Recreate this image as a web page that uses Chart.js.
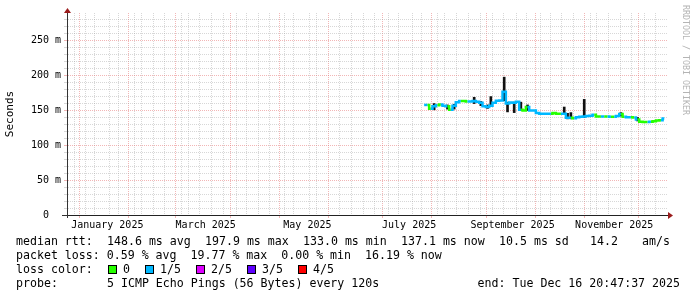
<!DOCTYPE html>
<html><head><meta charset="utf-8">
<script src="https://cdn.jsdelivr.net/npm/chart.js@4.4.1/dist/chart.umd.min.js"></script>
<style>
html,body{margin:0;padding:0;background:#fff;}
#wrap{position:relative;width:697px;height:297px;overflow:hidden;background:#fff;}
canvas{position:absolute;left:0;top:0;}
.t{position:absolute;font-family:'DejaVu Sans Mono',monospace;font-size:11.6px;line-height:14px;white-space:pre;color:#000;}
.box{position:absolute;width:7px;height:7px;border:1px solid #000;}
#credit{position:absolute;left:681px;top:5px;font-family:'DejaVu Sans Mono',monospace;font-size:8.3px;line-height:10px;color:#b4b4b4;writing-mode:vertical-rl;white-space:pre;}
</style></head><body>
<div id="wrap"><canvas id="c" width="697" height="297"></canvas>
<div id="legend"></div>
<div id="credit">RRDTOOL / TOBI OETIKER</div></div>
<script>
// ---- data (2025, median round-trip time in ms, loss in fifths) ----
const dates = ['07-25','07-27','07-29','07-31','08-02','08-04','08-06','08-08','08-10','08-12',
  '08-14','08-16','08-18','08-20','08-22','08-24','08-26','08-28','08-30','09-01',
  '09-03','09-05','09-07','09-09','09-11','09-13','09-15','09-17','09-19','09-21',
  '09-23','09-25','09-27','09-29','10-01','10-03','10-05','10-07','10-09','10-11',
  '10-13','10-15','10-17','10-19','10-21','10-23','10-25','10-27','10-29','10-31',
  '11-02','11-04','11-06','11-08','11-10','11-12','11-14','11-16','11-18','11-20',
  '11-22','11-24','11-26','11-28','11-30','12-02','12-04','12-06','12-08','12-10',
  '12-12','12-14','12-16'];
const medianMs = [158,158,152.5,156,157.5,158.5,157,156,151,157,
  162,163.5,163.5,163,163,163.5,162.5,161,156,155,
  157,161,164,164.5,177,160,161.5,161,162.5,151,
  150,155,150,150,146.5,145.5,145.2,145.2,145.5,146.5,
  145.2,145.2,145.5,139.5,139.5,139,140.5,141,141.4,142,
  142.5,144,141.5,141.4,141.4,141.4,141,141,142,145,
  141,140.5,140.5,140,137,134,133.5,133.5,134,134.5,
  135.5,136,138.5];
const lossFifths = [1,1,0,1,1,0,1,1,0,1,
  1,1,0,0,1,1,1,1,1,1,
  1,1,1,1,1,1,1,1,1,1,
  0,0,1,1,1,1,1,1,1,0,
  0,0,1,1,1,0,1,1,1,1,
  1,1,0,0,1,0,1,0,1,1,
  0,1,1,0,1,0,0,0,1,0,
  0,0,1];
const smokeDates  = ['07-31','08-08','08-12','08-24','08-28','09-01','09-03','09-11','09-13','09-17','09-21','09-25','10-17','10-19','10-21','10-29','11-20','11-30'];
const smokeLowMs  = [151,152,152,160,157,153,156,164,148,147,150,150,145,138,138,140,142,135];
const smokeHighMs = [160,158,159,169,163,158,170,197.9,162,162,162,158,155,146,147,166,147,140];

const xLabelTexts = ['January 2025','March 2025','May 2025','July 2025','September 2025','November 2025'];
const xLabelDates = ['2025-01-16','2025-03-16','2025-05-16','2025-07-16','2025-09-16','2025-11-16'];
const yTickValues = [0,50,100,150,200,250];
const yTickLabels = ['0  ','50 m','100 m','150 m','200 m','250 m'];
const lossLabels = ['0','1/5','2/5','3/5','4/5'];
const lossColors = ['#26ff00','#00b8ff','#dd00ff','#5e00ff','#ff0000'];
const rttStats = ['148.6 ms avg','197.9 ms max','133.0 ms min','137.1 ms now','10.5 ms sd','14.2','am/s'];
const lossStats = 'packet loss: 0.59 % avg  19.77 % max  0.00 % min  16.19 % now';
const probeText = '5 ICMP Echo Pings (56 Bytes) every 120s';
const endText = 'end: Tue Dec 16 20:47:37 2025';

// ---- scales ----
const DAY = 86400000;
const X_MIN = Date.parse('2024-12-22T20:00:00Z');
const X_MAX = Date.parse('2025-12-18T05:36:00Z');
const toT = d => Date.parse('2025-' + d + 'T00:00:00Z');
const FONT = "'DejaVu Sans Mono', monospace";
const MAJOR = 'rgba(230,110,110,0.5)';
const MINOR = 'rgba(160,160,160,0.42)';

const xKinds = new Map();
for (let t = Date.UTC(2024, 11, 22); t <= X_MAX; t += 7 * DAY) if (t > X_MIN) xKinds.set(t, {grid: 'week', label: ''});
for (let m = 0; m < 12; m++) xKinds.set(Date.UTC(2025, m, 1), {grid: 'month', label: ''});
xLabelDates.forEach((d, i) => {
  const t = Date.parse(d + 'T00:00:00Z');
  const k = xKinds.get(t);
  if (k) k.label = xLabelTexts[i]; else xKinds.set(t, {grid: null, label: xLabelTexts[i]});
});
const xTickVals = [...xKinds.keys()].sort((a, b) => a - b);
const yGridVals = [];
for (let v = 0; v <= 280; v += 10) yGridVals.push(v);

const gridColorX = c => { const k = c.tick && xKinds.get(c.tick.value); if (!k || !k.grid) return 'rgba(0,0,0,0)'; return k.grid === 'month' ? MAJOR : MINOR; };
const tickColorX = c => { const k = c.tick && xKinds.get(c.tick.value); return k && k.grid === 'month' ? MAJOR : 'rgba(0,0,0,0)'; };
const gridColorY = c => (c.tick && c.tick.value % 50 === 0) ? MAJOR : MINOR;

const arrows = {
  id: 'arrows',
  afterDraw(chart) {
    const {ctx, chartArea: a} = chart;
    ctx.save();
    ctx.strokeStyle = '#333'; ctx.lineWidth = 1;
    ctx.beginPath(); ctx.moveTo(a.left - 5, a.bottom + 0.5); ctx.lineTo(a.left, a.bottom + 0.5); ctx.stroke();
    ctx.beginPath(); ctx.moveTo(a.left + 0.5, a.bottom); ctx.lineTo(a.left + 0.5, a.bottom + 3); ctx.stroke();
    ctx.fillStyle = '#9b1c1c';
    ctx.beginPath(); ctx.moveTo(a.left - 3, a.top); ctx.lineTo(a.left + 4, a.top); ctx.lineTo(a.left + 0.5, a.top - 5); ctx.closePath(); ctx.fill();
    ctx.beginPath(); ctx.moveTo(a.right, a.bottom - 3); ctx.lineTo(a.right, a.bottom + 4); ctx.lineTo(a.right + 5, a.bottom + 0.5); ctx.closePath(); ctx.fill();
    ctx.restore();
  }
};

new Chart(document.getElementById('c'), {
  type: 'line',
  data: {
    datasets: [
      {
        type: 'bar', order: 2,
        data: smokeDates.map((d, i) => ({x: toT(d), y: [smokeLowMs[i], smokeHighMs[i]]})),
        backgroundColor: '#111', borderWidth: 0, barThickness: 2
      },
      {
        type: 'line', order: 1,
        data: dates.map((d, i) => ({x: toT(d), y: medianMs[i]})),
        borderWidth: 2.5, pointRadius: 0, stepped: 'middle', fill: false,
        borderColor: lossColors[1],
        segment: { borderColor: c => lossColors[lossFifths[c.p1DataIndex]] }
      }
    ]
  },
  options: {
    responsive: false, animation: false, devicePixelRatio: 1,
    layout: {padding: {left: 0, top: 13, right: 29, bottom: 0}},
    plugins: {legend: {display: false}, tooltip: {enabled: false}},
    scales: {
      x: {
        type: 'linear', min: X_MIN, max: X_MAX, offset: false, bounds: 'data',
        afterBuildTicks: s => { s.ticks = xTickVals.map(v => ({value: v})); },
        afterFit: s => { s.height = 82; },
        grid: {color: gridColorX, tickColor: tickColorX, lineWidth: 1, drawTicks: true, tickLength: 3},
        border: {display: true, color: '#222', width: 1, dash: [1, 1]},
        ticks: {autoSkip: false, maxRotation: 0, minRotation: 0, padding: 1, color: '#000',
          font: {family: FONT, size: 10},
          callback: v => { const k = xKinds.get(v); return k ? k.label : ''; }}
      },
      y: {
        type: 'linear', min: 0, max: 290,
        afterBuildTicks: s => { s.ticks = yGridVals.map(v => ({value: v})); },
        afterFit: s => { s.width = 67; },
        grid: {color: gridColorY, tickColor: gridColorY, lineWidth: 1, drawTicks: true, tickLength: 3},
        border: {display: true, color: '#333', width: 1, dash: [1, 1]},
        ticks: {autoSkip: false, padding: 3, color: '#000', font: {family: FONT, size: 10},
          callback: v => { const i = yTickValues.indexOf(v); return i >= 0 ? yTickLabels[i] : ''; }},
        title: {display: true, text: 'Seconds', color: '#000', font: {family: FONT, size: 11}, padding: {top: 4, bottom: 0}}
      }
    }
  },
  plugins: [arrows]
});

// ---- legend text ----
const lg = document.getElementById('legend');
function txt(x, y, s, right) {
  const d = document.createElement('div'); d.className = 't'; d.textContent = s;
  if (right) d.style.right = x + 'px'; else d.style.left = x + 'px';
  d.style.top = y + 'px'; lg.appendChild(d);
}
const rttX = [107, 205, 303, 401, 499, 590, 642];
txt(16, 234, 'median rtt:');
rttStats.forEach((s, i) => txt(rttX[i], 234, s));
txt(16, 248, lossStats);
txt(16, 262, 'loss color:');
const boxX = [108, 145, 196, 247, 298];
lossLabels.forEach((s, i) => {
  const b = document.createElement('div'); b.className = 'box';
  b.style.left = boxX[i] + 'px'; b.style.top = '265px'; b.style.background = lossColors[i];
  lg.appendChild(b);
  txt(boxX[i] + 15, 262, s);
});
txt(16, 276, 'probe:');
txt(107, 276, probeText);
txt(17, 276, endText, true);
</script>
</body></html>
